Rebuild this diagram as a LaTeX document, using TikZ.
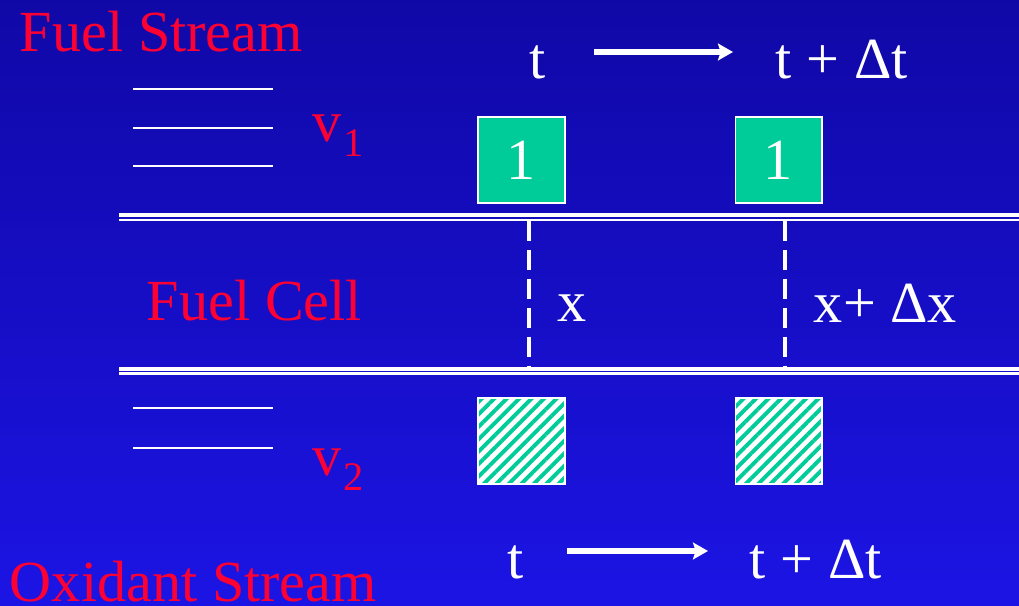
\documentclass[tikz,border=0pt]{standalone}
\usepackage{fontspec}
\setmainfont{Liberation Serif}
\usetikzlibrary{positioning, arrows.meta, patterns.meta}

\definecolor{slidered}{RGB}{255,0,51}
\definecolor{cellgreen}{RGB}{0,204,153}
\definecolor{bgtop}{RGB}{16,8,166}
\definecolor{bgbot}{RGB}{28,20,228}

\begin{document}
\begin{tikzpicture}[x=0.567pt, y=-0.567pt, line width=1.1pt]
	\tikzstyle{slidetext} = [inner sep=0pt, anchor=base west, font=\fontsize{33}{40}\selectfont];
	\tikzstyle{redtext} = [slidetext, text=slidered];
	\tikzstyle{whitetext} = [slidetext, text=white];
	\tikzstyle{element} = [draw=white, line width=0.9pt, minimum width=49pt, minimum height=48.5pt, inner sep=0pt, font=\fontsize{33}{40}\selectfont, text=white];
	\tikzstyle{timearrow} = [white, line width=2.9pt, -{Stealth[length=8.5pt, width=9.5pt, inset=1.5pt]}];
	
	\def \sub #1{\hspace{1pt}\raisebox{-9pt}{\fontsize{23}{28}\selectfont #1}}
	
	\useasboundingbox (0,0) rectangle (1019,606);
	\shade[top color=bgtop, bottom color=bgbot] (0,0) rectangle (1019,606);
	
	% streams and cell walls
	\foreach \y in {89,128,166,408,448}
	{
		\draw[white] (133,\y) -- (273,\y);
	}
	\foreach \y in {215.2,368.8}
	{
		\draw[white, line width=2.1pt] (119,\y) -- (1019,\y);
		\draw[white, line width=1.2pt] (119,\y+4.7) -- (1019,\y+4.7);
	}
	
	\node[redtext] (fuel) at (19,51) {Fuel Stream};
	\node[redtext] (v1) at (312,141) {v\sub{1}};
	\node[redtext] (cell) at (146,320) {Fuel Cell};
	\node[redtext] (v2) at (312,475) {v\sub{2}};
	\node[redtext] (oxid) at (9,601) {Oxidant Stream};
	
	% time step, top
	\node[whitetext] (t1) at (529,78) {t};
	\node[whitetext] (t1dt) at (775,78) {t + Δt};
	\coordinate (a1s) at (594,52);
	\coordinate (a1e) at (733,52);
	\draw[timearrow] (a1s) -- (a1e);
	
	% time step, bottom
	\node[whitetext] (t2) at (507,578) {t};
	\node[whitetext] (t2dt) at (749,578) {t + Δt};
	\coordinate (a2s) at (567,551);
	\coordinate (a2e) at (708,551);
	\draw[timearrow] (a2s) -- (a2e);
	
	% elements
	\node[element, fill=cellgreen] (b1) at (521.5,160) {1};
	\node[element, fill=cellgreen] (b2) at (778.5,160) {1};
	\node[element, preaction={fill=white}, pattern={Lines[angle=45, distance=5pt, line width=2.2pt]}, pattern color=cellgreen] (h1) at (521.5,441) {};
	\node[element, preaction={fill=white}, pattern={Lines[angle=45, distance=5pt, line width=2.2pt]}, pattern color=cellgreen] (h2) at (778.5,441) {};
	
	% positions x and x + dx
	\coordinate (d1s) at (529,221);
	\coordinate (d1e) at (529,368);
	\coordinate (d2s) at (785,221);
	\coordinate (d2e) at (785,368);
	\draw[white, line width=2.3pt, dash pattern=on 11.3pt off 5.1pt] (d1s) -- (d1e);
	\draw[white, line width=2.3pt, dash pattern=on 11.3pt off 5.1pt] (d2s) -- (d2e);
	
	\node[whitetext] (x) at (557,321) {x};
	\node[whitetext] (xdx) at (813,322) {x+ Δx};
	
\end{tikzpicture}
\end{document}
